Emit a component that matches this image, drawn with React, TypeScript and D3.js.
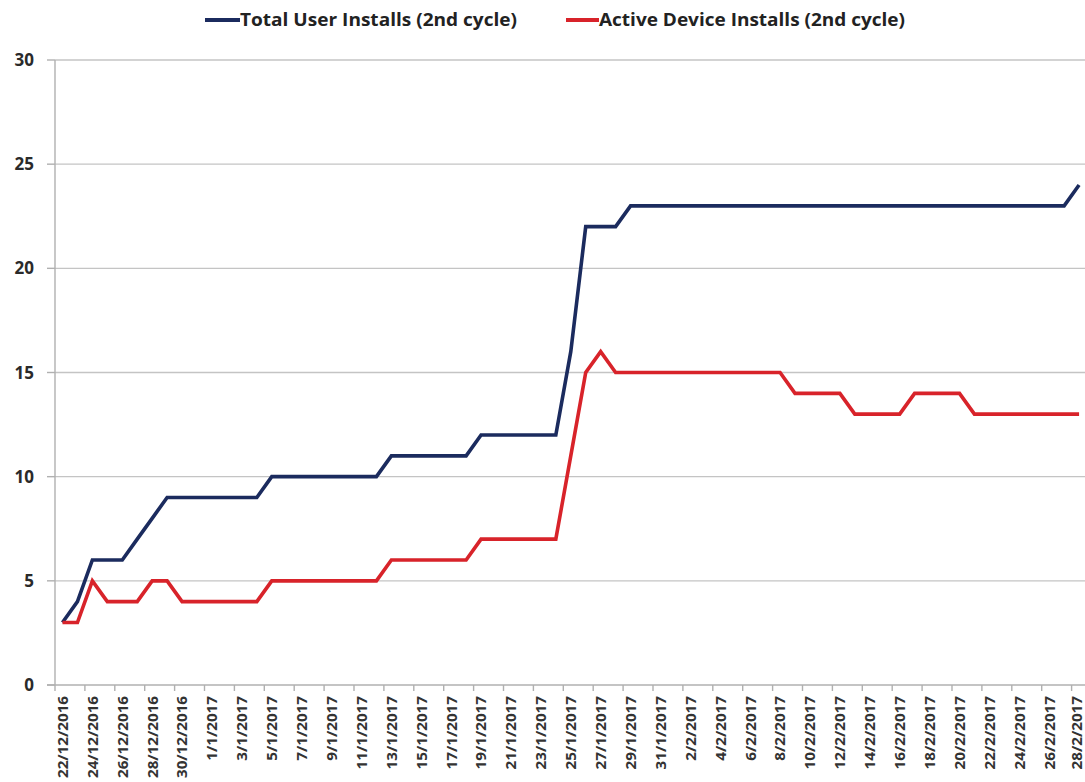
import React from "react";
import * as d3 from "d3";

const dates: string[] = [
  "22/12/2016","23/12/2016","24/12/2016","25/12/2016","26/12/2016","27/12/2016","28/12/2016","29/12/2016","30/12/2016","31/12/2016",
  "1/1/2017","2/1/2017","3/1/2017","4/1/2017","5/1/2017","6/1/2017","7/1/2017","8/1/2017","9/1/2017","10/1/2017",
  "11/1/2017","12/1/2017","13/1/2017","14/1/2017","15/1/2017","16/1/2017","17/1/2017","18/1/2017","19/1/2017","20/1/2017",
  "21/1/2017","22/1/2017","23/1/2017","24/1/2017","25/1/2017","26/1/2017","27/1/2017","28/1/2017","29/1/2017","30/1/2017",
  "31/1/2017","1/2/2017","2/2/2017","3/2/2017","4/2/2017","5/2/2017","6/2/2017","7/2/2017","8/2/2017","9/2/2017",
  "10/2/2017","11/2/2017","12/2/2017","13/2/2017","14/2/2017","15/2/2017","16/2/2017","17/2/2017","18/2/2017","19/2/2017",
  "20/2/2017","21/2/2017","22/2/2017","23/2/2017","24/2/2017","25/2/2017","26/2/2017","27/2/2017","28/2/2017",
];

const totalUserInstalls: number[] = [
  3, 4, 6, 6, 6, 7, 8, 9, 9, 9,
  9, 9, 9, 9, 10, 10, 10, 10, 10, 10,
  10, 10, 11, 11, 11, 11, 11, 11, 12, 12,
  12, 12, 12, 12, 16, 22, 22, 22, 23, 23,
  23, 23, 23, 23, 23, 23, 23, 23, 23, 23,
  23, 23, 23, 23, 23, 23, 23, 23, 23, 23,
  23, 23, 23, 23, 23, 23, 23, 23, 24,
];

const activeDeviceInstalls: number[] = [
  3, 3, 5, 4, 4, 4, 5, 5, 4, 4,
  4, 4, 4, 4, 5, 5, 5, 5, 5, 5,
  5, 5, 6, 6, 6, 6, 6, 6, 7, 7,
  7, 7, 7, 7, 11, 15, 16, 15, 15, 15,
  15, 15, 15, 15, 15, 15, 15, 15, 15, 14,
  14, 14, 14, 13, 13, 13, 13, 14, 14, 14,
  14, 13, 13, 13, 13, 13, 13, 13, 13,
];

const yTicks: number[] = [0, 5, 10, 15, 20, 25, 30];

const seriesNames: string[] = ["Total User Installs (2nd cycle)", "Active Device Installs (2nd cycle)"];
const seriesColors: string[] = ["#1b2b5e", "#d8232a"];

const W = 1085;
const H = 782;
const left = 55;
const top = 60;
const bottom = 685;
const catW = 14.95;
const FONT = "'Open Sans', 'Noto Sans', sans-serif";

// width of a date label as drawn by a narrow (Calibri-like) bold face at 17px
const dateLabelLen = (s: string) => {
  let w = 0;
  for (const ch of s) w += ch === "/" ? 0.386 : 0.507;
  return w * 17;
};

export default function App() {
  const idx = dates.map((_, i) => i);
  const x = d3.scaleBand<number>().domain(idx).range([left, left + catW * dates.length]).padding(0);
  const y = d3.scaleLinear().domain([0, 30]).range([bottom, top]);
  const cx = (i: number) => (x(i) as number) + x.bandwidth() / 2;
  const line = d3
    .line<number>()
    .x((_, i) => cx(i))
    .y((d) => y(d));

  const series = [totalUserInstalls, activeDeviceInstalls];
  const labelIdx = idx.filter((i) => i % 2 === 0);
  const tickBounds = labelIdx.map((i) => x(i) as number);
  tickBounds.push(left + catW * dates.length);

  return (
    <svg
      width={W}
      height={H}
      style={{ position: "absolute", left: 0, top: 0, background: "#fff" }}
      fontFamily={FONT}
    >
      {yTicks.filter((t) => t > 0).map((t) => (
        <line key={"g" + t} x1={left} x2={W} y1={y(t)} y2={y(t)} stroke="#c4c4c4" strokeWidth={1.4} />
      ))}
      <line x1={left} x2={left} y1={top} y2={bottom} stroke="#b0b0b0" strokeWidth={1.4} />
      {yTicks.map((t) => (
        <g key={"yt" + t}>
          <line x1={left - 8} x2={left} y1={y(t)} y2={y(t)} stroke="#b0b0b0" strokeWidth={1.4} />
          <text x={34} y={y(t)} dy="0.36em" textAnchor="end" fontSize={17} fontWeight="bold" fill="#2a2a2a">
            {t}
          </text>
        </g>
      ))}
      <line x1={left - 8} x2={W} y1={bottom} y2={bottom} stroke="#b0b0b0" strokeWidth={1.4} />
      {tickBounds.map((b, k) => (
        <line key={"xt" + k} x1={b} x2={b} y1={bottom} y2={bottom + 6} stroke="#b0b0b0" strokeWidth={1.4} />
      ))}
      {labelIdx.map((i) => (
        <text
          key={"xl" + i}
          transform={`translate(${Math.min(cx(i), 1077)},${bottom + 11}) rotate(-90)`}
          dy="0.36em"
          textAnchor="end"
          fontSize={15}
          fontWeight="bold"
          fill="#333"
          textLength={dateLabelLen(dates[i])}
          lengthAdjust="spacingAndGlyphs"
        >
          {dates[i]}
        </text>
      ))}
      {series.map((s, k) => (
        <path key={"s" + k} d={line(s) || ""} fill="none" stroke={seriesColors[k]} strokeWidth={3.6} strokeLinejoin="miter" />
      ))}
      <g>
        <line x1={205} x2={240} y1={20} y2={20} stroke={seriesColors[0]} strokeWidth={4} />
        <text x={240} y={20} dy="0.36em" fontSize={17} fontWeight="bold" fill="#222" textLength={277} lengthAdjust="spacingAndGlyphs">
          {seriesNames[0]}
        </text>
        <line x1={566} x2={599} y1={20} y2={20} stroke={seriesColors[1]} strokeWidth={4} />
        <text x={599} y={20} dy="0.36em" fontSize={17} fontWeight="bold" fill="#222" textLength={306} lengthAdjust="spacingAndGlyphs">
          {seriesNames[1]}
        </text>
      </g>
    </svg>
  );
}
